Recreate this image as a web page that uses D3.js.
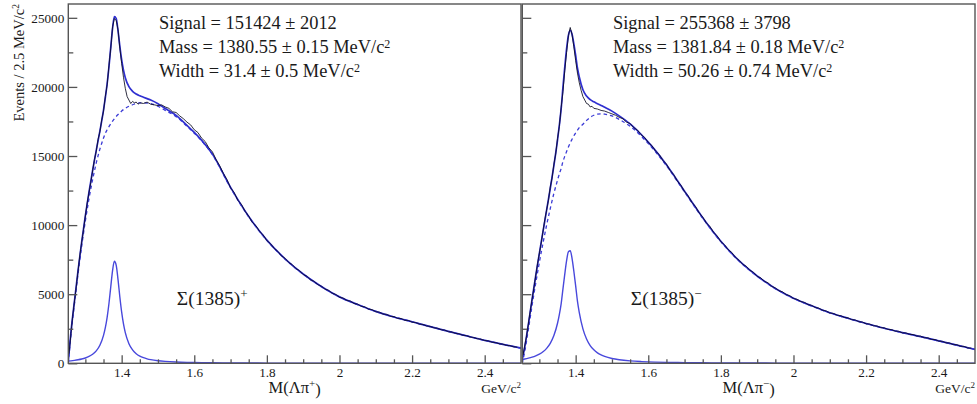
<!DOCTYPE html>
<html><head><meta charset="utf-8">
<script src="https://cdn.jsdelivr.net/npm/d3@7"></script>
<style>
body{margin:0;background:#fff}
svg{display:block}
text{font-family:"Liberation Serif","Times New Roman",serif;fill:#1a1a1a}
</style>
</head><body>
<svg id="chart" width="977" height="404"></svg>
<script>
// ---------------- data ----------------
const massDomain = [1.253, 2.5];
const yDomain = [0, 26000];
const xTickValues = [1.4, 1.6, 1.8, 2.0, 2.2, 2.4];
const xMinorTicks = [1.30,1.35,1.45,1.50,1.55,1.65,1.70,1.75,1.85,1.90,1.95,2.05,2.10,2.15,2.25,2.30,2.35,2.45];
const yTickValues = [0, 5000, 10000, 15000, 20000, 25000];
const yMinorTicks = [2500, 7500, 12500, 17500, 22500];

const fitMass = [1.253,1.26,1.27,1.28,1.29,1.30,1.31,1.32,1.33,1.34,1.35,1.355,1.36,1.365,1.37,1.375,1.38,1.385,1.39,1.395,1.40,1.405,1.41,1.42,1.43,1.44,1.45,1.46,1.47,1.48,1.50,1.52,1.55,1.58,1.60,1.62,1.65,1.70,1.75,1.80,1.85,1.90,1.95,2.00,2.05,2.10,2.15,2.20,2.25,2.30,2.35,2.40,2.45,2.50];

const totalPlus = [160,2178,4511,6753,8809,10686,12395,13955,15402,16807,18320,19226,20230,21460,22880,24260,25080,24950,24050,22930,21950,21211,20670,20020,19680,19485,19360,19255,19153,19053,18784,18436,17943,17217,16706,16147,15137,12726,10620,8915,7562,6460,5558,4807,4256,3755,3354,3004,2653,2313,1983,1662,1372,1102];
const bkgPlus = [0,2000,4300,6500,8500,10300,11900,13300,14500,15500,16300,16650,16900,17130,17340,17530,17700,17860,18000,18130,18250,18360,18450,18600,18710,18790,18840,18850,18830,18790,18600,18300,17850,17150,16650,16100,15100,12700,10600,8900,7550,6450,5550,4800,4250,3750,3350,3000,2650,2310,1980,1660,1370,1100];
const sigPlus = [160,178,211,253,309,386,495,655,902,1307,2020,2576,3330,4330,5540,6730,7380,7090,6050,4800,3700,2851,2220,1420,970,695,520,405,323,263,184,136,93,67,56,47,37,26,20,15,12,10,8,7,6,5,4,4,3,3,3,2,2,2];

const totalMinus = [284,1215,2871,4642,6337,7961,9534,11082,12648,14308,16149,17227,18407,19990,21430,22750,23720,24090,23810,23120,22280,21351,20720,19790,19335,19082,18922,18788,18657,18525,18247,17906,17324,16576,16003,15387,14369,12449,10537,8828,7422,6318,5415,4713,4161,3659,3258,2877,2536,2225,1935,1624,1314,1004];
const bkgMinus = [0,900,2500,4200,5800,7300,8700,10000,11200,12300,13250,13700,14100,14600,14980,15320,15650,15950,16210,16460,16680,16870,17050,17300,17580,17800,17950,18030,18050,18030,17900,17650,17150,16450,15900,15300,14300,12400,10500,8800,7400,6300,5400,4700,4150,3650,3250,2870,2530,2220,1930,1620,1310,1000];
const sigMinus = [284,315,371,442,537,661,834,1082,1448,2008,2899,3527,4307,5390,6450,7430,8070,8140,7600,6660,5600,4481,3670,2490,1755,1282,972,758,607,495,347,256,174,126,103,87,69,49,37,28,22,18,15,13,11,9,8,7,6,5,5,4,4,4];

const dataMass = [1.255,1.265,1.275,1.285,1.295,1.305,1.315,1.325,
1.33,1.335,1.34,1.345,1.35,1.355,1.36,1.365,1.37,1.375,1.38,1.385,1.39,1.395,1.40,1.405,1.41,1.415,1.42,1.425,1.43,1.435,1.44,1.445,1.45,
1.46,1.47,1.48,1.49,1.50,1.51,1.52,1.53,1.54,1.55,1.56,1.57,1.58,1.59,1.60,1.61,1.62,1.63,1.64,1.65,1.66,1.67,1.68,1.69,1.70,
1.71,1.72,1.73,1.74,1.75,1.76,1.77,1.78,1.79,1.80,1.81,1.82,1.83,1.84,1.85,1.86,1.87,1.88,1.89,1.90,
1.91,1.92,1.93,1.94,1.95,1.96,1.97,1.98,1.99,2.00,2.01,2.02,2.03,2.04,2.05,2.06,2.07,2.08,2.09,2.10,
2.11,2.12,2.13,2.14,2.15,2.16,2.17,2.18,2.19,2.20,2.21,2.22,2.23,2.24,2.25,2.26,2.27,2.28,2.29,2.30,
2.31,2.32,2.33,2.34,2.35,2.36,2.37,2.38,2.39,2.40,2.41,2.42,2.43,2.44,2.45,2.46,2.47,2.48,2.49];

const dataPlus = [700,3400,5550,7850,9700,11600,13100,14750,
15350,16200,16750,17600,18250,19300,20150,21550,22800,24350,24950,24800,24150,22800,21700,20700,19900,19300,19050,18800,18950,18850,18900,18750,18850,
18800,18900,18750,18700,18650,18700,18550,18450,18200,18150,17900,17700,17450,17250,16900,16700,16300,16050,15600,15300,14750,14300,13750,13300,12700,
12350,11800,11500,11000,10650,10200,9950,9550,9280,8880,8660,8320,8100,7780,7600,7300,7140,6860,6700,6430,
6300,6050,5930,5700,5580,5370,5280,5070,4980,4780,4720,4550,4500,4330,4280,4120,4080,3920,3880,3730,
3700,3560,3540,3400,3380,3250,3240,3110,3100,2980,2950,2840,2810,2700,2670,2570,2530,2430,2400,2290,
2260,2160,2130,2030,2000,1900,1870,1770,1740,1650,1620,1530,1500,1415,1385,1300,1275,1195,1165];

const dataMinus = [600,2000,3800,5450,7200,8700,10400,11800,
12750,13400,14400,15150,16250,17150,18500,19650,21200,22500,23700,24300,23800,22900,21900,21000,20300,19750,19300,19050,18800,18750,18550,18600,18450,
18400,18300,18250,18150,18050,17950,17800,17700,17450,17350,17050,16880,16550,16340,15980,15750,15360,15110,14690,14420,13960,13660,13190,12880,12420,
12110,11650,11350,10890,10580,10160,9890,9480,9210,8800,8580,8230,8020,7670,7460,7170,7020,6730,6580,6290,
6180,5930,5820,5570,5450,5250,5170,4970,4890,4690,4630,4470,4410,4250,4190,4040,3990,3840,3790,3640,
3610,3480,3450,3320,3290,3160,3135,3010,2985,2860,2840,2720,2700,2580,2565,2455,2440,2330,2315,2205,
2195,2090,2080,1970,1965,1855,1840,1730,1715,1605,1590,1480,1470,1355,1345,1235,1225,1110,1100];

const statsPlus = [["Signal = 151424 \u00b1 2012", ""], ["Mass = 1380.55 \u00b1 0.15 MeV/c", "2"], ["Width = 31.4 \u00b1 0.5 MeV/c", "2"]];
const statsMinus = [["Signal = 255368 \u00b1 3798", ""], ["Mass = 1381.84 \u00b1 0.18 MeV/c", "2"], ["Width = 50.26 \u00b1 0.74 MeV/c", "2"]];
const yTitle = "Events / 2.5 MeV/c";
const xUnit = "GeV/c";

// ---------------- drawing ----------------
const svg = d3.select("#chart");
const yTop = 4, yBot = 363.3;

const panels = [
  {x0: 68.3, x1: 521, total: totalPlus, bkg: bkgPlus, sig: sigPlus, data: dataPlus, stats: statsPlus, charge: "+", yLabels: true},
  {x0: 522.3, x1: 975, total: totalMinus, bkg: bkgMinus, sig: sigMinus, data: dataMinus, stats: statsMinus, charge: "\u2212", yLabels: false}
];

panels.forEach((p, i) => {
  const x = d3.scaleLinear().domain(massDomain).range([p.x0, p.x1]);
  const y = d3.scaleLinear().domain(yDomain).range([yBot, yTop]);
  const g = svg.append("g");

  const clipId = "clip" + i;
  svg.append("clipPath").attr("id", clipId).append("rect")
    .attr("x", p.x0).attr("y", yTop).attr("width", p.x1 - p.x0).attr("height", yBot - yTop);

  const plot = g.append("g").attr("clip-path", `url(#${clipId})`);
  const fitLine = arr => d3.line().curve(d3.curveMonotoneX)
      .x((d, k) => x(fitMass[k])).y(d => y(d))(arr);
  const dataLine = d3.line().x((d, k) => x(dataMass[k])).y(d => y(d));

  plot.append("path").attr("d", fitLine(p.bkg)).attr("fill", "none")
    .attr("stroke", "#3a3ad6").attr("stroke-width", 1.3).attr("stroke-dasharray", "3.5,3");
  plot.append("path").attr("d", fitLine(p.sig)).attr("fill", "none")
    .attr("stroke", "#4848dc").attr("stroke-width", 1.4);
  plot.append("path").attr("d", fitLine(p.total)).attr("fill", "none")
    .attr("stroke", "#2f2fd0").attr("stroke-width", 1.7);
  plot.append("path").attr("d", dataLine(p.data)).attr("fill", "none")
    .attr("stroke", "#0a0a20").attr("stroke-width", 1).attr("stroke-opacity", 0.85);

  // frame
  g.append("rect").attr("x", p.x0).attr("y", yTop).attr("width", p.x1 - p.x0).attr("height", yBot - yTop)
    .attr("fill", "none").attr("stroke", "#555").attr("stroke-width", 1.4);

  // x axis
  const xAxis = d3.axisBottom(x).tickValues(xTickValues).tickSize(-8).tickSizeOuter(0).tickPadding(4.2)
    .tickFormat(d3.format("~g"));
  const xa = g.append("g").attr("transform", `translate(0,${yBot})`).call(xAxis);
  const xm = g.append("g").attr("transform", `translate(0,${yBot})`)
    .call(d3.axisBottom(x).tickValues(xMinorTicks).tickSize(-4).tickSizeOuter(0).tickFormat(""));
  // y axis
  const yAxis = d3.axisLeft(y).tickValues(yTickValues).tickSize(-9).tickSizeOuter(0).tickPadding(4)
    .tickFormat(p.yLabels ? d3.format("d") : "");
  const ya = g.append("g").attr("transform", `translate(${p.x0},0)`).call(yAxis);
  const ym = g.append("g").attr("transform", `translate(${p.x0},0)`)
    .call(d3.axisLeft(y).tickValues(yMinorTicks).tickSize(-5).tickSizeOuter(0).tickFormat(""));
  [xa, xm, ya, ym].forEach(a => {
    a.attr("font-family", null).attr("font-size", null);
    a.select(".domain").remove();
    a.selectAll(".tick line").attr("stroke", "#555").attr("stroke-width", 1.3);
    a.selectAll(".tick text").attr("font-size", 13.2).attr("fill", "#1a1a1a");
  });

  // stats text
  p.stats.forEach((s, k) => {
    const t = g.append("text").attr("x", p.x0 + 90.7).attr("y", 29.3 + k * 24).attr("font-size", 18.4);
    t.append("tspan").text(s[0]);
    if (s[1]) t.append("tspan").attr("dy", "-0.45em").attr("font-size", 12).text(s[1]);
  });

  // particle label
  const lab = g.append("text").attr("x", p.x0 + 108.5).attr("y", 305).attr("font-size", 19.5);
  lab.append("tspan").text("\u03a3(1385)");
  lab.append("tspan").attr("dy", "-0.55em").attr("font-size", 13).text(p.charge);

  // x title
  const xt = g.append("text").attr("x", (p.x0 + p.x1) / 2).attr("y", 392.5)
    .attr("text-anchor", "middle").attr("font-size", 16.5);
  xt.append("tspan").text("M(\u039b\u03c0");
  xt.append("tspan").attr("dy", "-0.5em").attr("font-size", 11).text(p.charge);
  xt.append("tspan").attr("dy", "0.5em").text(")");

  // unit
  const u = g.append("text").attr("x", p.x1).attr("y", 392.5).attr("text-anchor", "end").attr("font-size", 13.5);
  u.append("tspan").text(xUnit);
  u.append("tspan").attr("dy", "-0.45em").attr("font-size", 9).text("2");
});

// y title
const yt = svg.append("text").attr("transform", "translate(23.5,4) rotate(-90)")
  .attr("text-anchor", "end").attr("font-size", 14.5);
yt.append("tspan").text(yTitle);
yt.append("tspan").attr("dy", "-0.45em").attr("font-size", 9.5).text("2");
</script>
</body></html>
